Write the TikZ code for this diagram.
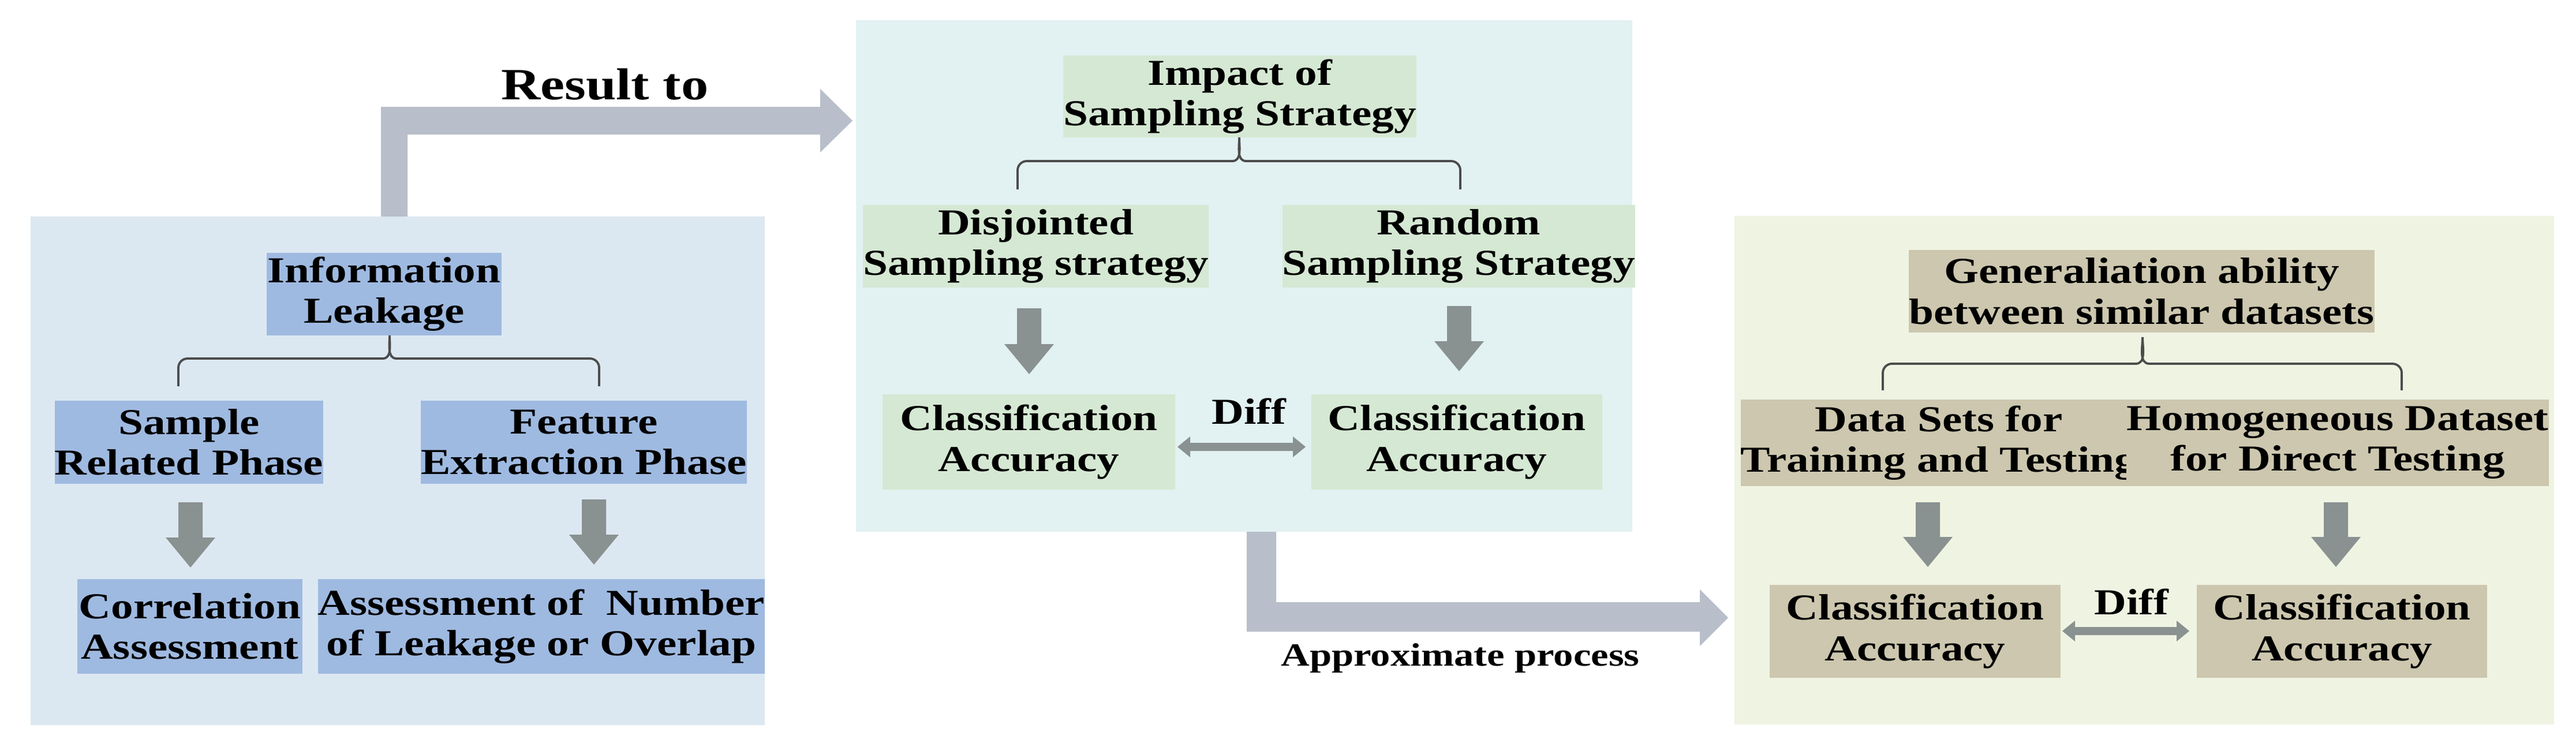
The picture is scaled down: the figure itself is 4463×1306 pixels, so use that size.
\documentclass[tikz,border=0pt]{standalone}
\usepackage{fontspec}
\setmainfont{Liberation Serif}[FakeStretch=1.22]
\definecolor{bgA}{HTML}{DCE8F1}
\definecolor{bxA}{HTML}{9FBAE1}
\definecolor{bgB}{HTML}{E2F1F1}
\definecolor{bxB}{HTML}{D5E8D3}
\definecolor{bgC}{HTML}{EFF4E2}
\definecolor{bxC}{HTML}{CCC7AE}
\definecolor{bigar}{HTML}{B8BFCA}
\definecolor{smar}{HTML}{8A9191}
\newcommand\mybox[7]{\node[#6,minimum width={(#4-#2)*0.01cm},minimum height={(#5-#3)*0.01cm}] (#1) at ({(#2+#4)/2},{(#3+#5)/2}) {#7};}
\newcommand\mydarr[3]{\fill[smar] ({#1-21},#2) -- ({#1+21},#2) -- ({#1+21},{#3-52}) -- ({#1+43},{#3-52}) -- (#1,#3) -- ({#1-43},{#3-52}) -- ({#1-21},{#3-52}) -- cycle;}
\newcommand\mydiff[3]{\fill[smar] (#1,#3) -- ({#1+22},{#3-18}) -- ({#1+22},{#3-7}) -- ({#2-22},{#3-7}) -- ({#2-22},{#3-18}) -- (#2,#3) -- ({#2-22},{#3+18}) -- ({#2-22},{#3+7}) -- ({#1+22},{#3+7}) -- ({#1+22},{#3+18}) -- cycle;}
\newcommand\mybrace[6]{\draw[brc] (#1,#6) -- (#1,{#5+16}) to[out=90,in=180] ({#1+16},#5) -- ({#3-12},#5) to[out=0,in=-90] (#3,#4) to[out=-90,in=180] ({#3+12},#5) -- ({#2-16},#5) to[out=0,in=90] (#2,{#5+16}) -- (#2,#6);}
\tikzset{
 tx/.style={inner sep=0pt,align=center,font=\fontsize{18}{20}\selectfont\bfseries},
 bA/.style={tx,fill=bxA},
 bB/.style={tx,fill=bxB},
 bC/.style={tx,fill=bxC},
 brc/.style={draw=black!70,line width=1.1pt},
 lbl/.style={font=\fontsize{18}{20}\selectfont\bfseries}
}
\begin{document}
\begin{tikzpicture}[x=0.01cm,y=-0.01cm]
\useasboundingbox (0,0) rectangle (4463,1306);
% panels
\fill[bgA] (53,375) rectangle (1325,1256);
\fill[bgB] (1483,35) rectangle (2828,921);
\fill[bgC] (3005,374) rectangle (4425,1255);
% big arrows
\fill[bigar] (660,375) -- (660,185) -- (1421,185) -- (1421,154) -- (1477,209) -- (1421,264) -- (1421,233) -- (706,233) -- (706,375) -- cycle;
\node[lbl,font=\fontsize{22}{24}\selectfont\bfseries] (res) at (1048,146) {Result to};
\fill[bigar] (2160,921) -- (2160,1094) -- (2945,1094) -- (2945,1119) -- (2994,1070) -- (2945,1021) -- (2945,1043) -- (2211,1043) -- (2211,921) -- cycle;
\node[lbl,font=\fontsize{16}{18}\selectfont\bfseries] (apx) at (2530,1140) {Approximate process};
% left panel
\mybox{il}{462}{438}{869}{581}{bA}{Information\\Leakage}
\mybrace{309}{1038}{675}{581}{621}{669}
\mybox{srp}{102}{694}{553}{838}{bA}{Sample\\Related Phase}
\mybox{fep}{748}{694}{1275}{838}{bA}{Feature\\Extraction Phase}
\mydarr{330}{870}{983}
\mydarr{1029}{865}{978}
\mybox{ca}{134}{1003}{524}{1167}{bA}{Correlation\\Assessment}
\mybox{an}{590}{1003}{1286}{1167}{bA}{Assessment of~ Number\\of Leakage or Overlap}
% middle panel
\mybox{iss}{1874}{96}{2422}{238}{bB}{Impact of\\Sampling Strategy}
\mybrace{1763}{2530}{2147}{238}{279}{328}
\mybox{dss}{1519}{355}{2070}{498}{bB}{Disjointed\\Sampling strategy}
\mybox{rss}{2245}{355}{2810}{498}{bB}{Random\\Sampling Strategy}
\mydarr{1783}{534}{648}
\mydarr{2528}{530}{643}
\mybox{cl1}{1529}{683}{2036}{848}{bB}{Classification\\Accuracy}
\mybox{cl2}{2272}{683}{2776}{848}{bB}{Classification\\Accuracy}
\mydiff{2040}{2262}{774}
\node[lbl] (d1) at (2164,712) {Diff};
% right panel
\mybox{gen}{3359}{433}{4062}{576}{bC}{Generaliation ability\\between similar datasets}
\mybrace{3262}{4161}{3712}{584}{630}{676}
\mybox{dst}{3044}{692}{3674}{842}{bC}{Data Sets for\\Training and Testing}
\mybox{hdt}{3712}{692}{4388}{842}{bC}{Homogeneous Dataset\\for Direct Testing}
\mydarr{3340}{870}{982}
\mydarr{4047}{870}{982}
\mybox{cl3}{3066}{1013}{3570}{1174}{bC}{Classification\\Accuracy}
\mybox{cl4}{3806}{1013}{4309}{1174}{bC}{Classification\\Accuracy}
\mydiff{3573}{3793}{1093}
\node[lbl] (d2) at (3693,1042) {Diff};
\end{tikzpicture}
\end{document}
